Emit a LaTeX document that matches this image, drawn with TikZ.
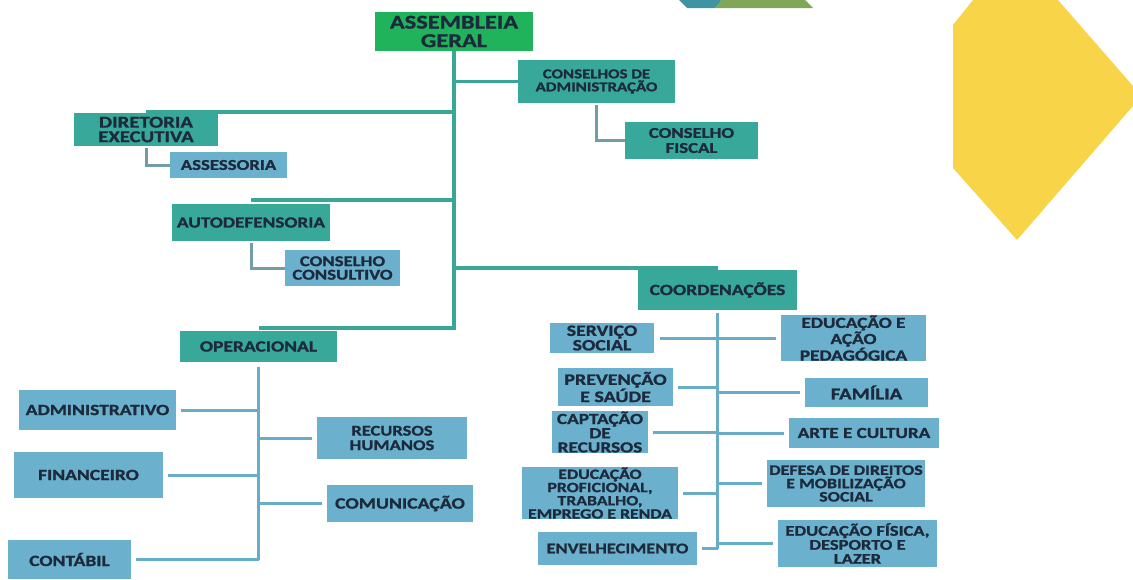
\documentclass[tikz,border=0pt]{standalone}
\usepackage{fontspec}
\setmainfont{Carlito}[FakeStretch=1.25, BoldFeatures={FakeBold=1.2}]
\definecolor{tealbox}{RGB}{56,168,155}
\definecolor{bluebox}{RGB}{107,176,204}
\definecolor{greenbox}{RGB}{33,178,92}
\definecolor{trunkcol}{RGB}{58,166,152}
\definecolor{subcol}{RGB}{112,158,168}
\definecolor{blucol}{RGB}{104,172,200}
\definecolor{txt}{RGB}{28,42,60}
\definecolor{yel}{RGB}{248,212,72}
\definecolor{decoteal}{RGB}{62,148,162}
\definecolor{decogreen}{RGB}{128,166,88}
\begin{document}
\begin{tikzpicture}[x=1pt,y=-1pt,
  box/.style={inner sep=0pt, align=center, text=txt},
  fs/.style 2 args={font=\bfseries\fontsize{#1pt}{#2pt}\selectfont},
  tbox/.style={box, fill=tealbox},
  bbox/.style={box, fill=bluebox},
  gbox/.style={box, fill=greenbox},
  sz/.style 2 args={minimum width=#1pt, minimum height=#2pt},
  trunk/.style={draw=trunkcol, line width=3.5pt},
  sub/.style={draw=subcol, line width=3pt},
  blu/.style={draw=blucol, line width=3pt}]
\path[use as bounding box] (0,0) rectangle (1133,579);
% decorations
\fill[yel] (953,25) -- (973,0) -- (1058,0) -- (1133,86) -- (1133,106) -- (1017,240) -- (953,168) -- cycle;
\fill[decoteal] (679,0) -- (722,0) -- (715,8) -- (687,8) -- cycle;
\fill[decogreen] (722,0) -- (805,0) -- (813,8) -- (715,8) -- cycle;
% nodes
\node[gbox, sz={158}{39}, fs={19.5}{18.5}] (ag) at (454,31.5) {ASSEMBLEIA\\GERAL};
\node[tbox, sz={157}{43}, fs={13.5}{13}] (cad) at (596.5,81.5) {CONSELHOS DE\\ADMINISTRAÇÃO};
\node[tbox, sz={133}{37}, fs={15}{15}] (cf) at (691.5,140.5) {CONSELHO\\FISCAL};
\node[tbox, sz={144}{33}, fs={16.6}{14.5}] (dir) at (146,129.5) {DIRETORIA\\EXECUTIVA};
\node[bbox, sz={117}{26}, fs={15}{14}] (ass) at (228.5,165) {ASSESSORIA};
\node[tbox, sz={158}{37}, fs={15.4}{14}] (aut) at (251,222.5) {AUTODEFENSORIA};
\node[bbox, sz={115}{36}, fs={15}{13.5}] (cc) at (342.5,268) {CONSELHO\\CONSULTIVO};
\node[tbox, sz={157}{31}, fs={15.6}{14}] (opr) at (258.5,346.5) {OPERACIONAL};
\node[tbox, sz={159}{40}, fs={15.6}{14}] (coo) at (717.5,290) {COORDENAÇÕES};
% operacional
\node[bbox, sz={157}{40}, fs={15.6}{14}] (adm) at (97.5,410) {ADMINISTRATIVO};
\node[bbox, sz={150}{42}, fs={14.8}{14.5}] (rh) at (392,438) {RECURSOS\\HUMANOS};
\node[bbox, sz={149}{46}, fs={15.6}{14}] (fin) at (88.5,475) {FINANCEIRO};
\node[bbox, sz={146}{37}, fs={15.8}{14}] (com) at (400,503.5) {COMUNICAÇÃO};
\node[bbox, sz={123}{39}, fs={15.6}{14}] (con) at (69.5,559.5) {CONTÁBIL};
% coordenacoes
\node[bbox, sz={104}{30}, fs={15.8}{14.5}] (ss) at (602,338) {SERVIÇO\\SOCIAL};
\node[bbox, sz={145}{44}, fs={15.4}{14}] (edu) at (853.5,338) {EDUCAÇÃO  E\\AÇÃO\\PEDAGÓGICA};
\node[bbox, sz={115}{38}, fs={16}{15.5}] (pre) at (615.5,387) {PREVENÇÃO\\E SAÚDE};
\node[bbox, sz={123}{29}, fs={16.6}{14}] (fam) at (866.5,392.5) {FAMÍLIA};
\node[bbox, sz={96}{38}, fs={15.4}{14.2}] (cap) at (600,432) {CAPTAÇÃO\\DE\\RECURSOS};
\node[bbox, sz={150}{30}, fs={15.3}{14}] (art) at (864,433) {ARTE  E CULTURA};
\node[bbox, sz={156}{48}, fs={14.2}{13.2}] (ep) at (600,493) {EDUCAÇÃO\\PROFICIONAL,\\TRABALHO,\\EMPREGO E RENDA};
\node[bbox, sz={158}{47}, fs={14.4}{13.3}] (def) at (846,483.5) {DEFESA DE DIREITOS\\E MOBILIZAÇÃO\\SOCIAL};
\node[bbox, sz={159}{33}, fs={14.7}{14}] (env) at (617.5,548.5) {ENVELHECIMENTO};
\node[bbox, sz={159}{47}, fs={14.8}{14}] (ef) at (857.5,543.5) {EDUCAÇÃO  FÍSICA,\\DESPORTO  E\\LAZER};
% main trunk
\draw[trunk] (ag.south) |- ([yshift=3pt]opr.north);
\draw[trunk] (ag.south |- cad.west) -- (cad.west);
\draw[trunk] ([yshift=1pt]dir.north -| ag.south) -- ([yshift=1pt]dir.north);
\draw[trunk] ([yshift=4pt]aut.north -| ag.south) -- ([yshift=4pt]aut.north);
\draw[trunk] ([yshift=2pt]coo.north -| ag.south) -- ([yshift=2pt]coo.north);
% sub L connectors
\draw[sub, shorten <=2pt] (dir.south) |- (ass.west);
\draw[sub, shorten <=2pt] (aut.south) |- (cc.west);
\draw[sub, shorten <=2pt] (cad.south) |- (cf.west);
% operacional branches
\draw[blu] ([yshift=-5pt]opr.south) -- (opr.south |- con.east);
\draw[blu, shorten <=5pt] (adm.east) -- (adm.east -| opr.south);
\draw[blu, shorten <=5pt] (fin.east) -- (fin.east -| opr.south);
\draw[blu, shorten <=5pt] (con.east) -- (con.east -| opr.south);
\draw[blu, shorten >=5pt] (rh.west -| opr.south) -- (rh.west);
\draw[blu, shorten >=5pt] (com.west -| opr.south) -- (com.west);
% coordenacoes branches
\draw[blu] ([yshift=-3pt]coo.south) -- (coo.south |- env.east);
\draw[blu, shorten <=6pt, shorten >=5pt] (ss.east) -- (edu.west);
\draw[blu, shorten <=5pt] (pre.east) -- (pre.east -| coo.south);
\draw[blu, shorten <=5pt] (cap.east) -- (cap.east -| coo.south);
\draw[blu, shorten <=5pt] (ep.east) -- (ep.east -| coo.south);
\draw[blu, shorten <=5pt] (env.east) -- (env.east -| coo.south);
\draw[blu, shorten >=5pt] (fam.west -| coo.south) -- (fam.west);
\draw[blu, shorten >=5pt] (art.west -| coo.south) -- (art.west);
\draw[blu, shorten >=5pt] (def.west -| coo.south) -- (def.west);
\draw[blu, shorten >=5pt] (ef.west -| coo.south) -- (ef.west);
\end{tikzpicture}
\end{document}
